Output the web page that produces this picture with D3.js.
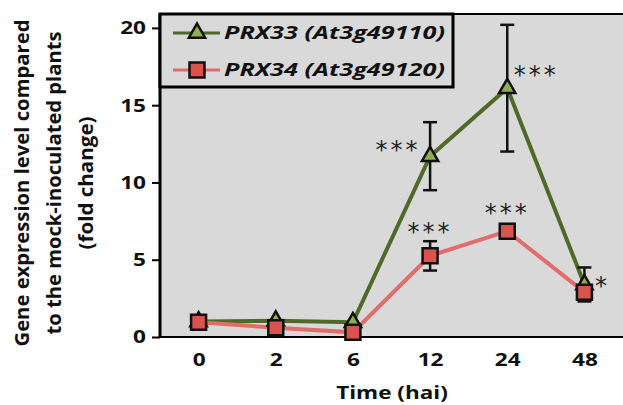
<!DOCTYPE html>
<html>
<head>
<meta charset="utf-8">
<script src="https://cdn.jsdelivr.net/npm/d3@7"></script>
<style>
  body { margin: 0; background: #fff; }
  svg text { font-family: "Open Sans", "Liberation Sans", sans-serif; }
</style>
</head>
<body>
<svg id="chart" width="623" height="405"></svg>
<script>
// time points (hours after inoculation)
const times = ["0", "2", "6", "12", "24", "48"];

// PRX33 (At3g49110)
const prx33 = [1.0, 1.05, 0.95, 11.7, 16.1, 3.4];
const prx33Err = [0.1, 0.1, 0.1, 2.2, 4.1, 1.1];
// PRX34 (At3g49120)
const prx34 = [0.95, 0.6, 0.3, 5.25, 6.85, 2.9];
const prx34Err = [0.1, 0.1, 0.1, 0.95, 0.45, 0.45];

// significance marks
const stars33 = ["", "", "", "***", "***", ""];
const stars34 = ["", "", "", "***", "***", "*"];

const yTicks = [0, 5, 10, 15, 20];

// the original picture is a little stretched sideways
function stretch(sel, k) {
  sel.each(function () {
    const w = this.getComputedTextLength();
    d3.select(this).attr("textLength", w * k).attr("lengthAdjust", "spacingAndGlyphs");
  });
}

const svg = d3.select("#chart");
const margin = { left: 160, top: 14, right: 0, bottom: 68 };
const width = 623 - margin.left - margin.right;
const height = 405 - margin.top - margin.bottom;

const x = d3.scalePoint().domain(times).range([0, width]).padding(0.5);
const y = d3.scaleLinear().domain([0, 20.9]).range([height, 0]);

const g = svg.append("g").attr("transform", `translate(${margin.left},${margin.top})`);

// plot background
g.append("rect")
  .attr("width", width + 2).attr("height", height)
  .attr("fill", "#d9d9d9");

// top border
g.append("line").attr("x1", 0).attr("x2", width + 2).attr("y1", 0).attr("y2", 0)
  .attr("stroke", "#000").attr("stroke-width", 2);

// y axis
const yAxis = g.append("g")
  .call(d3.axisLeft(y).tickValues(yTicks).tickSize(8).tickPadding(6));
yAxis.select(".domain").attr("stroke-width", 3).attr("d", `M0,0V${height}`);
yAxis.selectAll(".tick line").attr("stroke-width", 2);
yAxis.selectAll(".tick text")
  .attr("font-size", 18.5).attr("font-weight", "bold").attr("fill", "#111")
  .style("font-family", "'Open Sans', sans-serif")
  .call(stretch, 1.22);

// x axis
const xAxis = g.append("g").attr("transform", `translate(0,${height})`)
  .call(d3.axisBottom(x).tickSize(0).tickPadding(16));
xAxis.select(".domain").attr("stroke-width", 2).attr("d", `M0,0H${width + 2}`);
xAxis.selectAll(".tick text")
  .attr("font-size", 18.5).attr("font-weight", "bold").attr("fill", "#111")
  .style("font-family", "'Open Sans', sans-serif")
  .call(stretch, 1.22);

// axis titles
svg.append("text")
  .attr("x", 392).attr("y", 399)
  .attr("text-anchor", "middle")
  .attr("font-size", 18).attr("font-weight", "bold").attr("fill", "#111")
  .text("Time (hai)")
  .call(stretch, 1.25);

const yLabel = ["Gene expression level compared", "to the mock-inoculated plants", "(fold change)"];
const yLabelLen = [327, 303, 133];
svg.append("g").attr("transform", "translate(0,183) rotate(-90)")
  .selectAll("text").data(yLabel).join("text")
  .attr("x", 0).attr("y", (d, i) => 29 + i * 32)
  .attr("text-anchor", "middle")
  .attr("font-size", 19).attr("font-weight", "bold").attr("fill", "#111")
  .attr("textLength", (d, i) => yLabelLen[i]).attr("lengthAdjust", "spacingAndGlyphs")
  .text(d => d);

const series = [
  { name: "PRX33", id: "(At3g49110)", vals: prx33, err: prx33Err, line: "#4f6a28", fill: "#8db04a", shape: d3.symbolTriangle, size: 115 },
  { name: "PRX34", id: "(At3g49120)", vals: prx34, err: prx34Err, line: "#e26b6b", fill: "#d9534f", shape: d3.symbolSquare, size: 225 }
];

const line = d3.line().x((d, i) => x(times[i])).y(d => y(d));

series.forEach(s => {
  g.append("path")
    .attr("d", line(s.vals))
    .attr("fill", "none").attr("stroke", s.line).attr("stroke-width", 4);
});

series.forEach(s => {
  const eb = g.append("g");
  s.vals.forEach((v, i) => {
    if (s.err[i] < 0.3) return;
    const cx = x(times[i]);
    const y1 = y(v + s.err[i]), y2 = y(v - s.err[i]);
    eb.append("line").attr("x1", cx).attr("x2", cx).attr("y1", y1).attr("y2", y2)
      .attr("stroke", "#111").attr("stroke-width", 2.5);
    [y1, y2].forEach(yy => eb.append("line")
      .attr("x1", cx - 7).attr("x2", cx + 7).attr("y1", yy).attr("y2", yy)
      .attr("stroke", "#111").attr("stroke-width", 2.5));
  });
  g.append("g").selectAll("path").data(s.vals).join("path")
    .attr("transform", (d, i) => `translate(${x(times[i])},${y(d)})`)
    .attr("d", d3.symbol().type(s.shape).size(s.size))
    .attr("fill", s.fill).attr("stroke", "#111").attr("stroke-width", 2.5);
});

// asterisks
const starOffsets33 = [null, null, null, [-32, -10], [29, -17], null];
const starOffsets34 = [null, null, null, [0, -28], [0, -22], [18, -10]];
function drawStars(vals, stars, offs) {
  vals.forEach((v, i) => {
    if (!stars[i]) return;
    g.append("text")
      .attr("x", x(times[i]) + offs[i][0]).attr("y", y(v) + offs[i][1] + 12)
      .attr("text-anchor", "middle")
      .attr("font-size", 24).attr("letter-spacing", 3).attr("fill", "#222")
      .style("font-family", "'DejaVu Sans', sans-serif")
      .text(stars[i]);
  });
}
drawStars(prx33, stars33, starOffsets33);
drawStars(prx34, stars34, starOffsets34);

// legend
const leg = g.append("g");
leg.append("rect")
  .attr("x", 0).attr("y", 0).attr("width", 293).attr("height", 73)
  .attr("fill", "#d9d9d9").attr("stroke", "#000").attr("stroke-width", 3);
series.forEach((s, i) => {
  const ly = 19 + i * 37;
  leg.append("line").attr("x1", 13).attr("x2", 60).attr("y1", ly).attr("y2", ly)
    .attr("stroke", s.line).attr("stroke-width", 3);
  leg.append("path")
    .attr("transform", `translate(37,${ly})`)
    .attr("d", d3.symbol().type(s.shape).size(s.size))
    .attr("fill", s.fill).attr("stroke", "#111").attr("stroke-width", 2.5);
  leg.append("text").attr("x", 64).attr("y", ly + 6)
    .attr("font-size", 18.5).attr("font-weight", "bold").attr("font-style", "italic").attr("fill", "#111")
    .attr("textLength", 221).attr("lengthAdjust", "spacingAndGlyphs")
    .text(s.name + " " + s.id);
});
</script>
</body>
</html>
